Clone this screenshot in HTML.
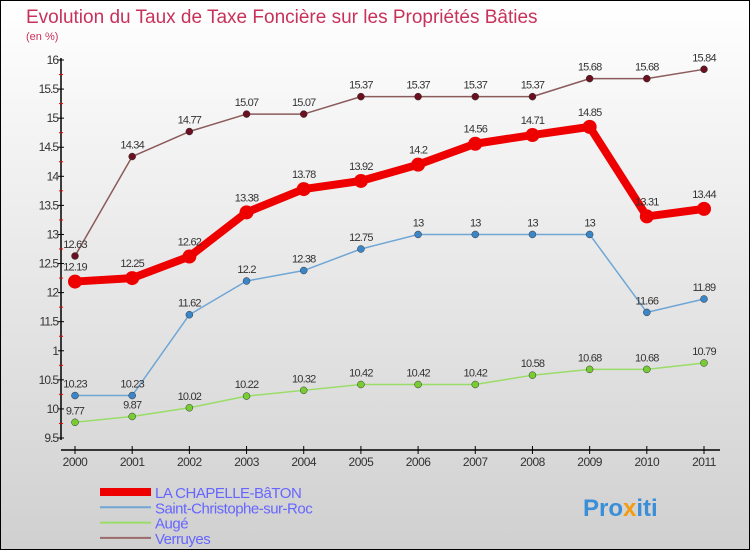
<!DOCTYPE html>
<html><head><meta charset="utf-8"><style>
body{margin:0}
#c{width:750px;height:550px;position:relative;box-sizing:border-box;border:1px solid #000;background:linear-gradient(#ffffff,#d0d0d0);font-family:"Liberation Sans",sans-serif;overflow:hidden}
</style></head><body>
<div id="c">
<svg id="s" width="750" height="550" style="position:absolute;left:-1px;top:-1px">
<text x="26" y="23" font-size="19" fill="#c8325a">Evolution du Taux de Taxe Foncière sur les Propriétés Bâties</text>
<text x="26" y="40" font-size="11" fill="#c8325a">(en %)</text>
<g id="ax"></g><g id="series"></g><g id="legend"></g>
<text x="583" y="516" font-size="24" font-weight="bold" fill="#3a8fd8">Pro<tspan fill="#f39c12">x</tspan>iti</text>
</svg>
</div>
<script>
const years=[2000,2001,2002,2003,2004,2005,2006,2007,2008,2009,2010,2011];
const yTicks=[9.5,10,10.5,11,11.5,12,12.5,13,13.5,14,14.5,15,15.5,16];
const yTickLabels=["9.5","10","10.5","1","11.5","12","12.5","13","13.5","14","14.5","15","15.5","16"];
const names=["LA CHAPELLE-BâTON","Saint-Christophe-sur-Roc","Augé","Verruyes"];
const chapelle=[12.19,12.25,12.62,13.38,13.78,13.92,14.2,14.56,14.71,14.85,13.31,13.44];
const stChristophe=[10.23,10.23,11.62,12.2,12.38,12.75,13,13,13,13,11.66,11.89];
const auge=[9.77,9.87,10.02,10.22,10.32,10.42,10.42,10.42,10.58,10.68,10.68,10.79];
const verruyes=[12.63,14.34,14.77,15.07,15.07,15.37,15.37,15.37,15.37,15.68,15.68,15.84];
const NS="http://www.w3.org/2000/svg";
const X=i=>75+i*(704-75)/11;
const Y=v=>438-(v-9.5)/6.5*378;
function mk(t,a,p){const e=document.createElementNS(NS,t);for(const k in a)e.setAttribute(k,a[k]);(p||document.getElementById('ax')).appendChild(e);return e;}
const ax=document.getElementById('ax');
let e=mk('line',{x1:61,y1:58,x2:61,y2:440,stroke:'#000','stroke-width':1.5});

e=mk('line',{x1:61,y1:450,x2:720,y2:450,stroke:'#000','stroke-width':1.5});

yTicks.forEach((v,i)=>{mk('line',{x1:58,x2:64,y1:Y(v),y2:Y(v),stroke:'#000'});
 if(i<yTicks.length-1)mk('line',{x1:59,x2:63,y1:Y(v+0.25),y2:Y(v+0.25),stroke:'#e00'});
 const t=mk('text',{x:58,y:Y(v)+4,'font-size':12,'text-anchor':'end',fill:'#333','letter-spacing':'-1'});t.textContent=yTickLabels[i];
 });
years.forEach((y,i)=>{mk('line',{x1:X(i),x2:X(i),y1:446,y2:454,stroke:'#000'});
 const t=mk('text',{x:X(i),y:466,'font-size':12,'text-anchor':'middle',fill:'#333','letter-spacing':'-0.5'});t.textContent=y;
 });
const sg=document.getElementById('series');
const defs=[[verruyes,'#8b5a5a','#6b1020',1.5,3.5,'verruyes'],[auge,'#99dd66','#77cc33',1.5,3.5,'auge'],[stChristophe,'#6fa6d6','#3a86c8',1.5,3.5,'saint-christophe'],[chapelle,'#ee0000','#ee0000',8,7,'la-chapelle-baton']];
defs.forEach(([d,lc,pc,w,r,n])=>{
 const g=mk('g',{},sg);
 mk('polyline',{points:d.map((v,i)=>X(i)+','+Y(v)).join(' '),fill:'none',stroke:lc,'stroke-width':w,'stroke-linejoin':'round'},g);
 d.forEach((v,i)=>{const c=mk('circle',{cx:X(i),cy:Y(v),r:r,fill:pc,stroke:'#333','stroke-width':w>2?0:0.5},g);
  
  const t=mk('text',{x:X(i),y:Y(v)-(w>2?11:8),'font-size':11,'text-anchor':'middle',fill:'#333','letter-spacing':'-0.8'},g);t.textContent=String(v);
  });
});
const lg=document.getElementById('legend');const lc=['#ee0000','#6fa6d6','#99dd66','#9b6a6a'],lw=[8,2,2,2];
names.forEach((n,i)=>{const y=492+i*15.3;
 const g=mk('g',{},lg);
 mk('line',{x1:100,x2:151,y1:y,y2:y,stroke:lc[i],'stroke-width':lw[i]},g);
 const t=mk('text',{x:155,y:y+6,'font-size':15,fill:'#6666ff','letter-spacing':'-0.5'},g);t.textContent=n;});
</script>
</body></html>
